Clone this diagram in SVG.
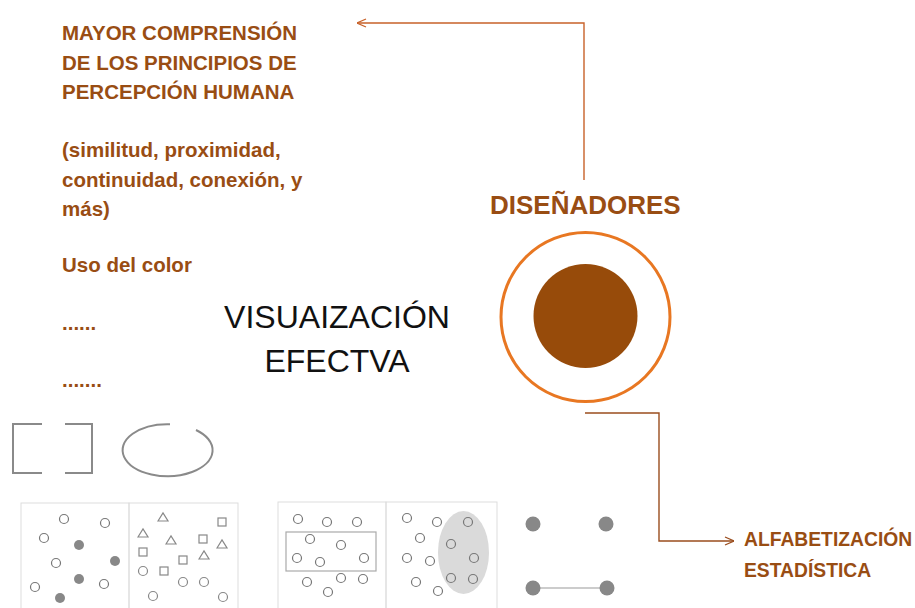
<svg xmlns="http://www.w3.org/2000/svg" width="915" height="608" viewBox="0 0 915 608">
<style>
.br{font-family:"Liberation Sans",Arial,sans-serif;font-weight:bold;fill:#994d13;}
.t{font-size:20.5px;}
.vis{font-family:"Liberation Sans",Arial,sans-serif;font-size:32px;fill:#111;text-anchor:middle;}
.oc{fill:#fff;stroke:#777;stroke-width:1.2;}
.fc{fill:#888;}
.pn{fill:none;stroke:#ddd;stroke-width:1;}
.sh{fill:none;stroke:#888;stroke-width:1.2;}
</style>
<defs>
<marker id="ah" viewBox="0 0 10 10" refX="10" refY="5" markerWidth="10" markerHeight="10" markerUnits="userSpaceOnUse" orient="auto">
<path d="M1,1 L10,5 L1,9" fill="none" stroke="context-stroke" stroke-width="1.3"/>
</marker>
</defs>
<rect width="915" height="608" fill="#fff"/>

<g id="principios" class="br t">
<text x="62" y="40">MAYOR COMPRENSIÓN</text>
<text x="62" y="70">DE LOS PRINCIPIOS DE</text>
<text x="62" y="99">PERCEPCIÓN HUMANA</text>
<text x="62" y="157">(similitud, proximidad,</text>
<text x="62" y="187">continuidad, conexión, y</text>
<text x="62" y="216">más)</text>
<text x="62" y="272">Uso del color</text>
<text x="62" y="330">......</text>
<text x="62" y="387">.......</text>
</g>

<g id="visualizacion">
<text class="vis" x="337" y="328">VISUAIZACIÓN</text>
<text class="vis" x="337" y="372">EFECTVA</text>
</g>

<g id="disenadores">
<text class="br" x="490" y="214" style="font-size:26px">DISEÑADORES</text>
<circle cx="585.5" cy="317" r="84.5" fill="none" stroke="#e87722" stroke-width="3"/>
<circle cx="585.5" cy="316" r="52" fill="#974b0a"/>
</g>

<g id="alfabetizacion" class="br">
<text x="744" y="546" style="font-size:19.3px">ALFABETIZACIÓN</text>
<text x="744" y="577" style="font-size:19.3px">ESTADÍSTICA</text>
</g>

<g id="connectors" fill="none" stroke-width="1.4">
<path d="M584,180 V23 H357" stroke="#c8622a" marker-end="url(#ah)"/>
<path d="M585,413 H659 V541 H734" stroke="#9a4d1e" marker-end="url(#ah)"/>
</g>

<g id="gestalt-top" fill="none" stroke="#8a8a8a" stroke-width="2">
<path d="M42,424 H13 V473 H42"/>
<path d="M65,424 H92 V473 H65"/>
<path d="M170,424.2 A45,26 0 1 0 196,430"/>
</g>

<g id="panel-similitud">
<rect class="pn" x="21" y="503" width="108" height="110"/>
<circle class="oc" cx="64" cy="519" r="4.5"/>
<circle class="oc" cx="105" cy="523" r="4.5"/>
<circle class="oc" cx="44" cy="538" r="4.5"/>
<circle class="fc" cx="79" cy="545" r="5"/>
<circle class="fc" cx="115" cy="561" r="5"/>
<circle class="oc" cx="56" cy="563" r="4.5"/>
<circle class="fc" cx="79" cy="579" r="5"/>
<circle class="oc" cx="104" cy="584" r="4.5"/>
<circle class="oc" cx="35" cy="587" r="4.5"/>
<circle class="fc" cx="60" cy="598" r="5"/>
</g>

<g id="panel-formas">
<rect class="pn" x="129" y="503" width="109" height="110"/>
<g class="sh">
<path d="M158,521 L163,513 L168,521 Z"/>
<rect x="218" y="518" width="8" height="8"/>
<path d="M138,537 L143,529 L148,537 Z"/>
<path d="M166,544 L171,536 L176,544 Z"/>
<rect x="199" y="535" width="8" height="8"/>
<path d="M217,548 L222,540 L227,548 Z"/>
<rect x="139" y="548" width="8" height="8"/>
<path d="M199,559 L204,551 L209,559 Z"/>
<rect x="179" y="556" width="8" height="8"/>
<circle cx="143" cy="571" r="4.5"/>
<rect x="160" y="567" width="8" height="8"/>
<circle cx="183" cy="582" r="4.5"/>
<circle cx="204" cy="582" r="4.5"/>
<circle cx="153" cy="596" r="4.5"/>
<circle cx="223" cy="597" r="4.5"/>
</g>
</g>

<g id="panel-proximidad">
<rect class="pn" x="278" y="502" width="108" height="110"/>
<rect x="286" y="532" width="90" height="39" fill="none" stroke="#aaa" stroke-width="1.2"/>
<circle class="oc" cx="298" cy="519" r="4.5"/>
<circle class="oc" cx="327" cy="522" r="4.5"/>
<circle class="oc" cx="357" cy="522" r="4.5"/>
<circle class="oc" cx="310" cy="539" r="4.5"/>
<circle class="oc" cx="341" cy="545" r="4.5"/>
<circle class="oc" cx="297" cy="558" r="4.5"/>
<circle class="oc" cx="320" cy="562" r="4.5"/>
<circle class="oc" cx="364" cy="558" r="4.5"/>
<circle class="oc" cx="307" cy="582" r="4.5"/>
<circle class="oc" cx="341" cy="578" r="4.5"/>
<circle class="oc" cx="363" cy="579" r="4.5"/>
<circle class="oc" cx="328" cy="592" r="4.5"/>
</g>

<g id="panel-region">
<rect class="pn" x="386" y="502" width="111" height="110"/>
<ellipse cx="463.5" cy="552.5" rx="25.5" ry="41.5" fill="#dadada"/>
<circle class="oc" cx="407" cy="518" r="4.5"/>
<circle class="oc" cx="437" cy="522" r="4.5"/>
<circle class="oc" cx="468" cy="522" r="4.5" style="fill:none"/>
<circle class="oc" cx="420" cy="538" r="4.5"/>
<circle class="oc" cx="451" cy="544" r="4.5" style="fill:none"/>
<circle class="oc" cx="407" cy="558" r="4.5"/>
<circle class="oc" cx="430" cy="561" r="4.5"/>
<circle class="oc" cx="474" cy="558" r="4.5" style="fill:none"/>
<circle class="oc" cx="416" cy="582" r="4.5"/>
<circle class="oc" cx="451" cy="578" r="4.5" style="fill:none"/>
<circle class="oc" cx="473" cy="579" r="4.5" style="fill:none"/>
<circle class="oc" cx="438" cy="591" r="4.5"/>
</g>

<g id="panel-conexion">
<line x1="533" y1="588" x2="607" y2="588" stroke="#999" stroke-width="1.2"/>
<circle class="fc" cx="533" cy="524" r="7.5"/>
<circle class="fc" cx="606" cy="524" r="7.5"/>
<circle class="fc" cx="533" cy="588" r="7.5"/>
<circle class="fc" cx="607" cy="588" r="7.5"/>
</g>
</svg>
